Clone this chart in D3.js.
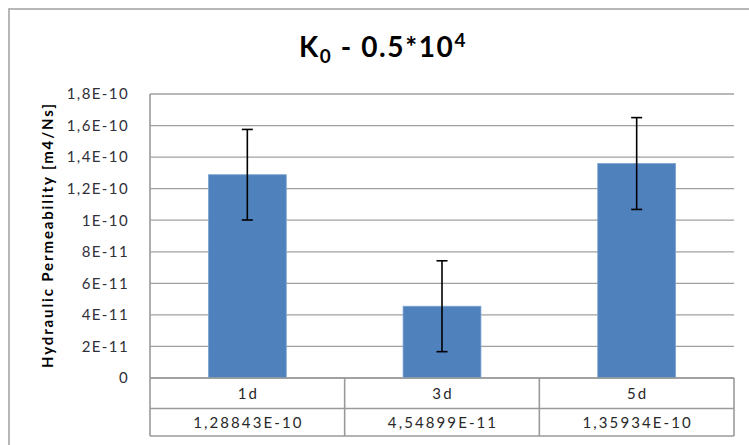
<!DOCTYPE html>
<html>
<head>
<meta charset="utf-8">
<script src="https://cdn.jsdelivr.net/npm/d3@7"></script>
<style>
  html, body { margin: 0; padding: 0; background: #fff; }
  svg { display: block; }
  text { font-family: Lato, "Open Sans", sans-serif; }
</style>
</head>
<body>
<svg id="chart" width="749" height="445"></svg>
<script>
// ---- data ----
const categories = ["1d", "3d", "5d"];
const values = [1.28843e-10, 4.54899e-11, 1.35934e-10];
const valueLabels = ["1,28843E-10", "4,54899E-11", "1,35934E-10"];
const errors = [2.87e-11, 2.88e-11, 2.91e-11];
const tickValues = [0, 2e-11, 4e-11, 6e-11, 8e-11, 1e-10, 1.2e-10, 1.4e-10, 1.6e-10, 1.8e-10];
const tickLabels = ["0", "2E-11", "4E-11", "6E-11", "8E-11", "1E-10", "1,2E-10", "1,4E-10", "1,6E-10", "1,8E-10"];
const yTitle = "Hydraulic Permeability [m4/Ns]";

// ---- layout ----
const svg = d3.select("#chart");
const plot = { left: 150, right: 734, top: 94, bottom: 378 };
const tableRows = [378, 408.5, 436];

// chart area border
svg.append("rect")
  .attr("x", 9).attr("y", 9).attr("width", 760).attr("height", 460)
  .attr("fill", "#fff").attr("stroke", "#a6a6a6").attr("stroke-width", 1.6);

// title
const title = svg.append("text")
  .attr("x", 383).attr("y", 57)
  .attr("text-anchor", "middle")
  .attr("font-size", 28).attr("font-weight", "bold").attr("fill", "#000")
  .attr("letter-spacing", 1.6);
title.append("tspan").text("K");
title.append("tspan").attr("font-size", 19).attr("dy", 6).text("0");
title.append("tspan").attr("dy", -6).text(" - 0.5*10");
title.append("tspan").attr("font-size", 19).attr("dy", -10).text("4");

const x = d3.scaleBand().domain(categories)
  .range([plot.left, plot.right]).paddingInner(0.6).paddingOuter(0.3);
const xCell = d3.scaleBand().domain(categories)
  .range([plot.left, plot.right]).padding(0);
const y = d3.scaleLinear().domain([0, 1.8e-10]).range([plot.bottom, plot.top]);

// gridlines
svg.append("g").selectAll("line").data(tickValues).join("line")
  .attr("x1", plot.left).attr("x2", plot.right)
  .attr("y1", d => y(d)).attr("y2", d => y(d))
  .attr("stroke", "#a0a0a0").attr("stroke-width", 1.3);

// y axis
const yAxis = d3.axisLeft(y).tickValues(tickValues)
  .tickFormat((d, i) => tickLabels[i]).tickSize(0).tickPadding(21);
const yg = svg.append("g").attr("transform", `translate(${plot.left},0)`).call(yAxis);
yg.select(".domain").remove();
yg.selectAll("text").attr("font-size", 15).attr("fill", "#303038")
  .attr("font-family", "Lato, sans-serif").attr("letter-spacing", 1.4);

// y title
svg.append("text")
  .attr("transform", `translate(53,${(plot.top + plot.bottom) / 2}) rotate(-90)`)
  .attr("text-anchor", "middle")
  .attr("font-size", 15).attr("font-weight", "bold").attr("fill", "#000")
  .attr("textLength", 264).attr("lengthAdjust", "spacing")
  .text(yTitle);

// bars
svg.append("g").selectAll("rect").data(values).join("rect")
  .attr("x", (d, i) => x(categories[i]))
  .attr("width", x.bandwidth())
  .attr("y", d => y(d))
  .attr("height", d => y(0) - y(d))
  .attr("fill", "#4f81bd").attr("stroke", "#7ea3d0").attr("stroke-width", 0.8);

// error bars
const eg = svg.append("g").attr("stroke", "#000").attr("stroke-width", 1.6);
values.forEach((v, i) => {
  const cx = x(categories[i]) + x.bandwidth() / 2;
  const capW = 5.5;
  eg.append("line").attr("x1", cx).attr("x2", cx)
    .attr("y1", y(v + errors[i])).attr("y2", y(v - errors[i]));
  eg.append("line").attr("x1", cx - capW).attr("x2", cx + capW)
    .attr("y1", y(v + errors[i])).attr("y2", y(v + errors[i]));
  eg.append("line").attr("x1", cx - capW).attr("x2", cx + capW)
    .attr("y1", y(v - errors[i])).attr("y2", y(v - errors[i]));
});

// axis lines and table
const tg = svg.append("g").attr("stroke", "#9a9a9a").attr("stroke-width", 1.6).attr("fill", "none");
tg.append("line").attr("x1", plot.left).attr("x2", plot.left).attr("y1", plot.top).attr("y2", tableRows[2]);
tableRows.forEach(ry => {
  tg.append("line").attr("x1", plot.left).attr("x2", plot.right).attr("y1", ry).attr("y2", ry);
});
categories.forEach(c => {
  tg.append("line").attr("x1", xCell(c) + xCell.bandwidth()).attr("x2", xCell(c) + xCell.bandwidth())
    .attr("y1", tableRows[0]).attr("y2", tableRows[2]);
});

// table text
const tt = svg.append("g").attr("font-size", 15).attr("fill", "#282828")
  .attr("text-anchor", "middle").attr("letter-spacing", 2.1);
categories.forEach((c, i) => {
  const cx = xCell(c) + xCell.bandwidth() / 2 + 1;
  tt.append("text").attr("x", cx).attr("y", (tableRows[0] + tableRows[1]) / 2 + 5.5).text(c);
  tt.append("text").attr("x", cx).attr("y", (tableRows[1] + tableRows[2]) / 2 + 5.5).text(valueLabels[i]);
});
</script>
</body>
</html>
